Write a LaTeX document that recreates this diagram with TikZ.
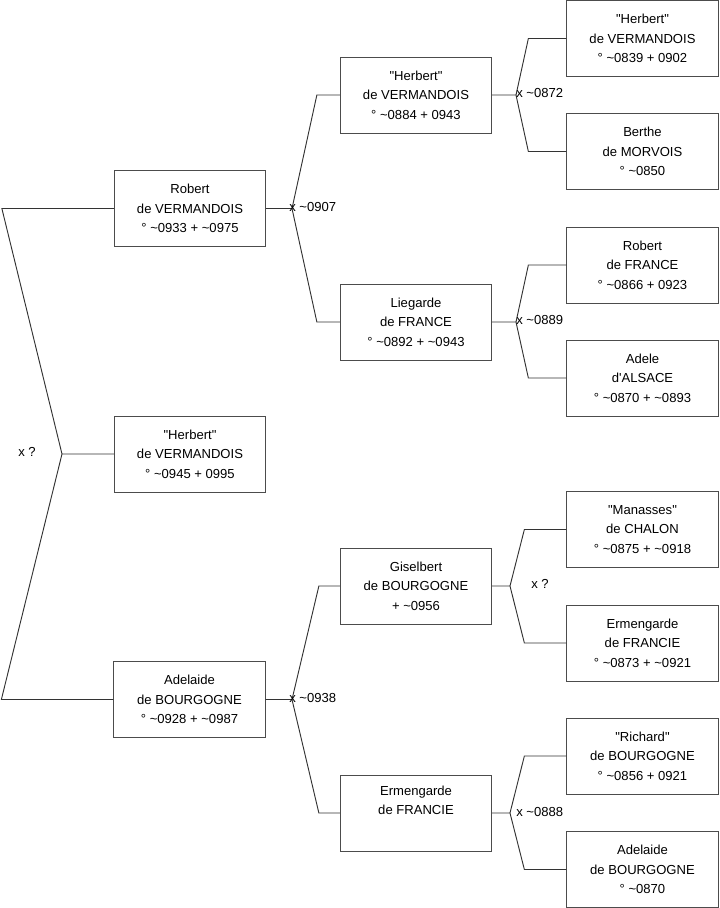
\documentclass[tikz,border=0pt]{standalone}
\usepackage{fontspec}
\setmainfont{Liberation Sans}[Ligatures=ResetAll]
\usetikzlibrary{calc}
\tikzset{
  person/.style={draw=black!70, line width=0.7pt, fill=white, minimum width=113.5pt, minimum height=57pt,
    inner sep=0pt, align=center, font=\fontsize{9.8}{14.7}\selectfont},
  link/.style={draw=black!80, line width=0.7pt},
  marr/.style={anchor=west, inner sep=0pt, font=\fontsize{9.8}{11}\selectfont}
}
\newcommand{\tl}{\textasciitilde}
\newcommand{\qq}[1]{\textquotedbl#1\textquotedbl}
\begin{document}
\begin{tikzpicture}[x=0.75pt,y=-0.75pt]
\useasboundingbox (0,0) rectangle (719,908);
% generation 1
\node[person] (R1) at (190,208.5) {Robert\\de VERMANDOIS\\° \tl0933 + \tl0975};
\node[person] (H0) at (190,454) {\qq{Herbert}\\de VERMANDOIS\\° \tl0945 + 0995};
\node[person] (A1) at (189.5,699.5) {Adelaide\\de BOURGOGNE\\° \tl0928 + \tl0987};
% generation 2
\node[person] (H2) at (416,95) {\qq{Herbert}\\de VERMANDOIS\\° \tl0884 + 0943};
\node[person] (L2) at (416,322) {Liegarde\\de FRANCE\\° \tl0892 + \tl0943};
\node[person] (G2) at (416,586) {Giselbert\\de BOURGOGNE\\+ \tl0956};
\node[person] (E2) at (416,813) {Ermengarde\\de FRANCIE\\\strut};
% generation 3
\node[person] (H3) at (642.5,38.5) {\qq{Herbert}\\de VERMANDOIS\\° \tl0839 + 0902};
\node[person] (B3) at (642.5,151.5) {Berthe\\de MORVOIS\\° \tl0850};
\node[person] (R3) at (642.5,265) {Robert\\de FRANCE\\° \tl0866 + 0923};
\node[person] (A3) at (642.5,378) {Adele\\d\textquotesingle ALSACE\\° \tl0870 + \tl0893};
\node[person] (M3) at (642.5,529.5) {\qq{Manasses}\\de CHALON\\° \tl0875 + \tl0918};
\node[person] (E3) at (642.5,643) {Ermengarde\\de FRANCIE\\° \tl0873 + \tl0921};
\node[person] (C3) at (642.5,756) {\qq{Richard}\\de BOURGOGNE\\° \tl0856 + 0921};
\node[person] (D3) at (642.5,869.5) {Adelaide\\de BOURGOGNE\\° \tl0870};
% junctions
\coordinate (j0) at (62,454);
\coordinate (jR) at (292,208.5);
\coordinate (jA) at (292,699.5);
\coordinate (jH) at (516,95);
\coordinate (jL) at (516,322);
\coordinate (jG) at (510,586);
\coordinate (jE) at (510,813);
% connectors
\draw[link] (H0.west) -- (j0) -- ($(R1.west)+(-112,0)$) -- (R1.west);
\draw[link] (j0) -- ($(A1.west)+(-112,0)$) -- (A1.west);
\draw[link] (R1.east) -- (jR) -- ($(H2.west)+(-23,0)$) -- (H2.west);
\draw[link] (jR) -- ($(L2.west)+(-23,0)$) -- (L2.west);
\draw[link] (A1.east) -- (jA) -- ($(G2.west)+(-21,0)$) -- (G2.west);
\draw[link] (jA) -- ($(E2.west)+(-21,0)$) -- (E2.west);
\draw[link] (H2.east) -- (jH) -- ($(H3.west)+(-38,0)$) -- (H3.west);
\draw[link] (jH) -- ($(B3.west)+(-38,0)$) -- (B3.west);
\draw[link] (L2.east) -- (jL) -- ($(R3.west)+(-38,0)$) -- (R3.west);
\draw[link] (jL) -- ($(A3.west)+(-38,0)$) -- (A3.west);
\draw[link] (G2.east) -- (jG) -- ($(M3.west)+(-42,0)$) -- (M3.west);
\draw[link] (jG) -- ($(E3.west)+(-42,0)$) -- (E3.west);
\draw[link] (E2.east) -- (jE) -- ($(C3.west)+(-42,0)$) -- (C3.west);
\draw[link] (jE) -- ($(D3.west)+(-42,0)$) -- (D3.west);
% marriage labels
\node[marr] (m0) at (18,452) {x ?};
\node[marr] (mR) at (289,207) {x \tl0907};
\node[marr] (mA) at (289,698) {x \tl0938};
\node[marr] (mH) at (516,93) {x \tl0872};
\node[marr] (mL) at (516,320) {x \tl0889};
\node[marr] (mG) at (531,584) {x ?};
\node[marr] (mE) at (516,812) {x \tl0888};
\end{tikzpicture}
\end{document}
